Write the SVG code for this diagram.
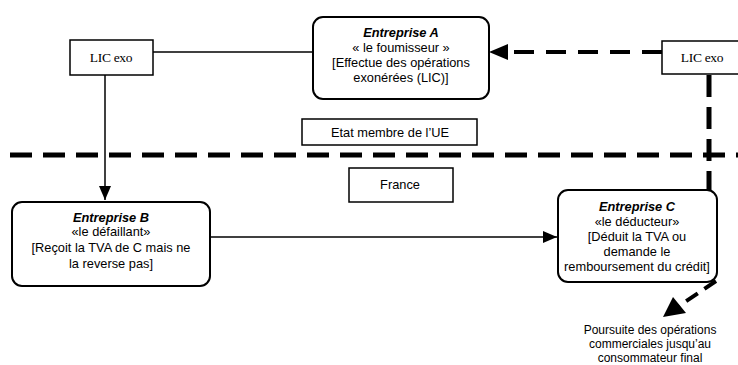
<svg xmlns="http://www.w3.org/2000/svg" width="738" height="365" viewBox="0 0 738 365">
<style>
.box{fill:#fff;stroke:#000;stroke-width:1.5}
.rbox{fill:#fff;stroke:#000;stroke-width:2}
.t{font-family:"Liberation Sans",Arial,sans-serif;font-size:12.8px;fill:#000;text-anchor:middle}
.p{font-family:"Liberation Sans",Arial,sans-serif;font-size:12px;fill:#000;text-anchor:middle}
.ti{font-family:"Liberation Sans",Arial,sans-serif;font-size:12.8px;font-style:italic;font-weight:bold;fill:#000;text-anchor:middle}
.s{font-family:"Liberation Serif","Times New Roman",serif;font-size:13.5px;fill:#000;text-anchor:middle;letter-spacing:-0.3px}
.thin{fill:none;stroke:#000;stroke-width:1.5}
.dash{fill:none;stroke:#000;stroke-width:5;stroke-dasharray:22 11}
</style>
<defs>
<marker id="ah" markerWidth="14" markerHeight="12" refX="14" refY="6" orient="auto" markerUnits="userSpaceOnUse">
<path d="M0,0 L14,6 L0,12 Z" fill="#000"/>
</marker>
</defs>
<g id="connectors">
<line class="dash" x1="10" y1="155" x2="738" y2="155"/>
<line class="thin" x1="153" y1="52" x2="313" y2="52"/>
<line class="thin" x1="105" y1="75" x2="105" y2="200" marker-end="url(#ah)"/>
<line class="thin" x1="210" y1="237" x2="557" y2="237" marker-end="url(#ah)"/>
<line fill="none" stroke="#000" stroke-width="4" stroke-dasharray="20 12" x1="662" y1="52" x2="508" y2="52"/>
<path d="M489,52 L508,44 L508,60 Z" fill="#000"/>
<line fill="none" stroke="#000" stroke-width="5" stroke-dasharray="22 10" x1="709" y1="75" x2="709" y2="190"/>
<line fill="none" stroke="#000" stroke-width="4" stroke-dasharray="14 8" x1="716" y1="281" x2="679" y2="306"/>
<path d="M663,317 L673,297 L686,313 Z" fill="#000"/>
</g>
<g id="lic-left">
<rect class="box" x="70" y="40" width="83" height="35"/>
<text class="s" x="111" y="62">LIC exo</text>
</g>
<g id="entreprise-a">
<rect class="rbox" x="313" y="17" width="176" height="82" rx="10"/>
<text class="ti" x="401" y="37">Entreprise A</text>
<text class="t" x="401" y="52">« le foumisseur »</text>
<text class="t" x="401" y="67">[Effectue des opérations</text>
<text class="t" x="401" y="82">exonérées (LIC)]</text>
</g>
<g id="lic-right">
<rect class="box" x="662" y="41" width="90" height="33"/>
<text class="s" x="702" y="62">LIC exo</text>
</g>
<g id="etat">
<rect class="box" x="302" y="119" width="175" height="26"/>
<text class="t" x="390" y="137">Etat membre de l’UE</text>
</g>
<g id="france">
<rect class="box" x="349" y="168" width="104" height="34"/>
<text class="t" x="400" y="189">France</text>
</g>
<g id="entreprise-b">
<rect class="rbox" x="12" y="202" width="198" height="84" rx="10"/>
<text class="ti" x="111" y="222">Entreprise B</text>
<text class="t" x="111" y="236">«le défaillant»</text>
<text class="t" x="111" y="252">[Reçoit la TVA de C mais ne</text>
<text class="t" x="111" y="268">la reverse pas]</text>
</g>
<g id="entreprise-c">
<rect class="rbox" x="558" y="190" width="159" height="92" rx="10"/>
<text class="ti" x="637" y="211">Entreprise C</text>
<text class="t" x="637" y="226">«le déducteur»</text>
<text class="t" x="637" y="241">[Déduit la TVA ou</text>
<text class="t" x="637" y="256">demande le</text>
<text class="t" x="637" y="271">remboursement du crédit]</text>
</g>
<g id="poursuite">
<text class="p" x="650" y="334">Poursuite des opérations</text>
<text class="p" x="650" y="348">commerciales jusqu’au</text>
<text class="p" x="650" y="362">consommateur final</text>
</g>
</svg>
